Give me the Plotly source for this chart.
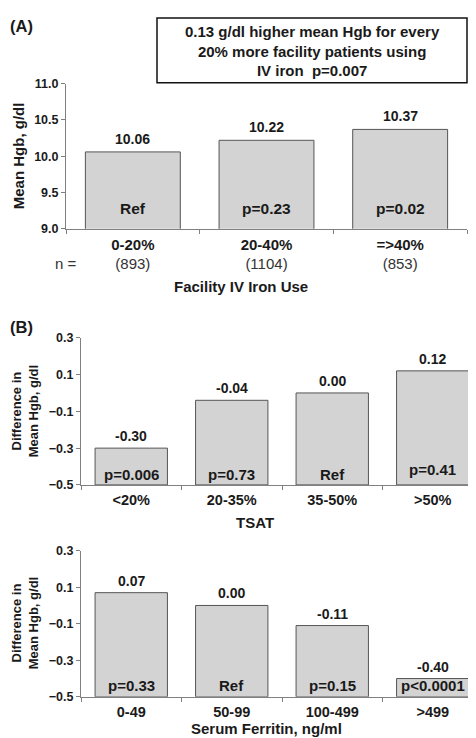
import plotly.graph_objects as go

W, H = 476, 738

# ---- data ----
a_categories = ["0-20%", "20-40%", "=>40%"]
a_counts = ["(893)", "(1104)", "(853)"]
a_values = [10.06, 10.22, 10.37]
a_pvalues = ["Ref", "p=0.23", "p=0.02"]
a_yticks = [9.0, 9.5, 10.0, 10.5, 11.0]

tsat_categories = ["<20%", "20-35%", "35-50%", ">50%"]
tsat_values = [-0.30, -0.04, 0.00, 0.12]
tsat_pvalues = ["p=0.006", "p=0.73", "Ref", "p=0.41"]

ferr_categories = ["0-49", "50-99", "100-499", ">499"]
ferr_values = [0.07, 0.00, -0.11, -0.40]
ferr_pvalues = ["p=0.33", "Ref", "p=0.15", "p<0.0001"]

b_yticks = [-0.5, -0.3, -0.1, 0.1, 0.3]
b_base = -0.5

FONT = "Liberation Sans, Arial, sans-serif"
TXT = "#1a1a1a"
BAR_FILL = "#d3d3d3"
BAR_LINE = "#555555"
AX = "#808080"


def px(x):
    return x / W


def py(y):
    return 1 - y / H


fig = go.Figure()

fig.add_trace(go.Bar(x=a_categories, y=a_values, width=0.71,
                     marker=dict(color=BAR_FILL, line=dict(color=BAR_LINE, width=1)),
                     xaxis="x", yaxis="y", hoverinfo="skip"))
fig.add_trace(go.Bar(x=tsat_categories, y=[v - b_base for v in tsat_values], base=b_base, width=0.72,
                     marker=dict(color=BAR_FILL, line=dict(color=BAR_LINE, width=1)),
                     xaxis="x2", yaxis="y2", hoverinfo="skip"))
fig.add_trace(go.Bar(x=ferr_categories, y=[v - b_base for v in ferr_values], base=b_base, width=0.72,
                     marker=dict(color=BAR_FILL, line=dict(color=BAR_LINE, width=1)),
                     xaxis="x3", yaxis="y3", hoverinfo="skip"))

xcommon = dict(type="category", showgrid=False, zeroline=False, showline=True,
               linecolor=AX, linewidth=1, ticks="outside", tickson="boundaries",
               ticklen=4, tickcolor=AX, fixedrange=True)
ycommon = dict(showgrid=False, zeroline=False, showline=True, linecolor=AX, linewidth=1,
               ticks="outside", ticklen=4, tickcolor=AX, tickformat=".1f",
               tickfont=dict(family=FONT, size=12.5, color=TXT, weight="bold"),
               fixedrange=True)

a_ticktext = [f"<b>{c}</b><br><span style='color:#333'>{n}</span>" for c, n in zip(a_categories, a_counts)]

fig.update_layout(
    width=W, height=H,
    margin=dict(l=0, r=0, t=0, b=0),
    paper_bgcolor="white", plot_bgcolor="white",
    showlegend=False,
    xaxis=dict(xcommon, domain=[px(58), px(459)], anchor="y",
               tickvals=a_categories, ticktext=a_ticktext,
               tickfont=dict(family=FONT, size=15, color=TXT), ticklabelstandoff=2),
    yaxis=dict(ycommon, domain=[py(218), py(70)], anchor="x", range=[9.0, 11.0],
               tickvals=a_yticks),
    xaxis2=dict(xcommon, domain=[px(73), px(475)], anchor="y2",
                tickfont=dict(family=FONT, size=14.5, color=TXT, weight="bold"), ticklabelstandoff=2),
    yaxis2=dict(ycommon, domain=[py(479), py(329)], anchor="x2", range=[-0.5, 0.3],
                tickvals=b_yticks),
    xaxis3=dict(xcommon, domain=[px(73), px(475)], anchor="y3",
                tickfont=dict(family=FONT, size=14.5, color=TXT, weight="bold"), ticklabelstandoff=2),
    yaxis3=dict(ycommon, domain=[py(695), py(546)], anchor="x3", range=[-0.5, 0.3],
                tickvals=b_yticks),
)

ann = []


def add_text(text, x, y, size, bold=True, xref="paper", yref="paper", angle=0, yshift=0, color=TXT):
    ann.append(dict(text=text, x=x, y=y, xref=xref, yref=yref, showarrow=False,
                    xanchor="center", yanchor="middle", textangle=angle, yshift=yshift,
                    borderpad=0,
                    font=dict(family=FONT, size=size, color=color, weight="bold" if bold else "normal")))


for c, v, p in zip(a_categories, a_values, a_pvalues):
    add_text(f"{v:.2f}", c, v, 14, xref="x", yref="y", yshift=13)
    add_text(p, c, 9.0, 15.5, xref="x", yref="y", yshift=20)

for c, v, p in zip(tsat_categories, tsat_values, tsat_pvalues):
    add_text(f"{v:.2f}", c, v, 14, xref="x2", yref="y2", yshift=12)
    add_text(p, c, b_base, 15, xref="x2", yref="y2", yshift=15 if p == "p=0.41" else 10)

for c, v, p in zip(ferr_categories, ferr_values, ferr_pvalues):
    add_text(f"{v:.2f}", c, v, 14, xref="x3", yref="y3", yshift=12)
    add_text(p, c, b_base, 15, xref="x3", yref="y3", yshift=11)

add_text("n =", px(58), py(253), 15, bold=False, color="#333")

add_text("Facility IV Iron Use", px(233), py(277), 15)
add_text("TSAT", px(247), py(517), 15)
add_text("Serum Ferritin, ng/ml", px(258), py(727), 15)

add_text("Mean Hgb, g/dl", px(10), py(144), 15, angle=-90)
add_text("Difference in<br>Mean Hgb, g/dl", px(17), py(404), 13, angle=-90)
add_text("Difference in<br>Mean Hgb, g/dl", px(17), py(620), 13, angle=-90)

add_text("(A)", px(13), py(11), 16.5)
add_text("(B)", px(13), py(318), 16.5)

add_text("0.13 g/dl higher mean Hgb for every<br>20% more facility patients using<br>IV iron  p=0.007",
         px(304), py(37), 15)

fig.update_layout(annotations=ann)
fig.add_shape(type="rect", xref="paper", yref="paper",
              x0=px(149), x1=px(459), y0=py(69), y1=py(3),
              line=dict(color="#111", width=1.5), fillcolor="rgba(0,0,0,0)")

fig.write_html("out.html")
